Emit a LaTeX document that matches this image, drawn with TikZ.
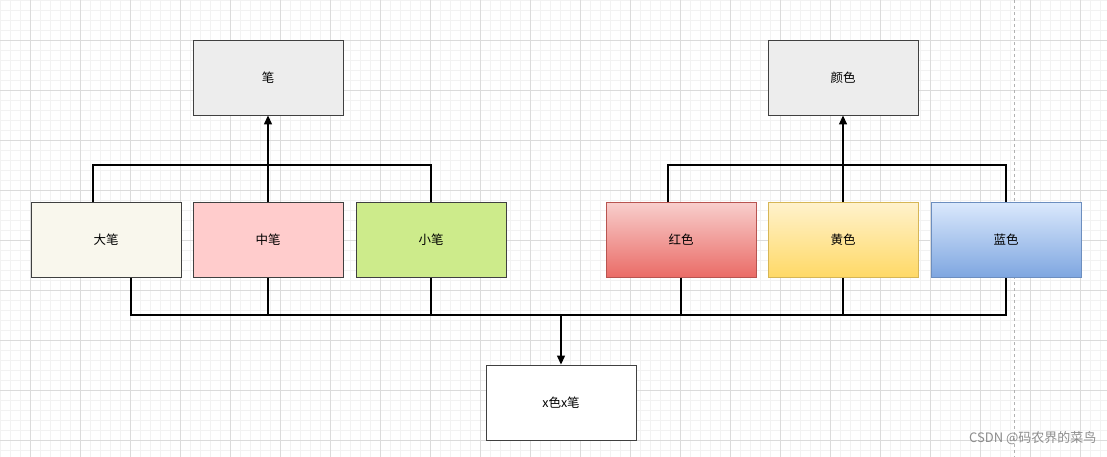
\documentclass[tikz,border=0pt]{standalone}
\usepackage{fontspec}
\setmainfont{Noto Sans CJK SC}
\usetikzlibrary{arrows.meta}
\begin{document}
\begin{tikzpicture}[x=1pt,y=-1pt,
 bx/.style={draw=black!75,line width=0.9pt,minimum width=150pt,minimum height=75pt,inner sep=0pt,font=\fontsize{12.5}{14}\selectfont},
 ln/.style={line width=1.3pt,black},
 ar/.style={-{Triangle[length=9pt,width=8pt]}}]
\fill[white] (0,0) rectangle (1107,457);
\useasboundingbox (0,0) rectangle (1107,457);
\foreach \x in {0,10,...,1100} \draw[black!5,line width=0.5pt] (\x,0)--(\x,457);
\foreach \y in {0,10,...,450} \draw[black!5,line width=0.5pt] (0,\y)--(1107,\y);
\foreach \x in {30,80,...,1100} \draw[black!14,line width=0.6pt] (\x,0)--(\x,457);
\foreach \y in {40,90,...,450} \draw[black!14,line width=0.6pt] (0,\y)--(1107,\y);
\draw[black!30,dashed] (1014,0)--(1014,457);
\node[bx,fill=black!7] (pen) at (268,77.5) {笔};
\node[bx,fill=black!7] (col) at (843,77.5) {颜色};
\node[bx,fill={rgb,255:red,249;green,247;blue,237}] (big) at (106,240) {大笔};
\node[bx,fill={rgb,255:red,255;green,204;blue,204}] (mid) at (268,240) {中笔};
\node[bx,fill={rgb,255:red,205;green,235;blue,139}] (sml) at (431,240) {小笔};
\node[bx,draw={rgb,255:red,184;green,84;blue,80},top color={rgb,255:red,248;green,206;blue,204},bottom color={rgb,255:red,234;green,107;blue,102}] (red) at (681,240) {红色};
\node[bx,draw={rgb,255:red,214;green,182;blue,86},top color={rgb,255:red,255;green,242;blue,204},bottom color={rgb,255:red,255;green,217;blue,102}] (yel) at (843,240) {黄色};
\node[bx,draw={rgb,255:red,108;green,142;blue,191},top color={rgb,255:red,218;green,232;blue,252},bottom color={rgb,255:red,126;green,166;blue,224}] (blu) at (1006,240) {蓝色};
\node[bx,fill=white] (res) at (561,402.5) {x色x笔};
\coordinate (bigT) at ([xshift=-13pt]big.north);
\coordinate (bigB) at ([xshift=25pt]big.south);
\coordinate (redT) at ([xshift=-13pt]red.north);
\draw[ln] (bigT) |- (sml.north |- 0,165) -- (sml.north);
\draw[ln] (mid.north) -- (mid.north |- 0,165);
\draw[ln,ar] (mid.north) -- (pen.south);
\draw[ln] (redT) |- (blu.north |- 0,165) -- (blu.north);
\draw[ln,ar] (yel.north) -- (col.south);
\draw[ln] (bigB) |- (blu.south |- 0,315) -- (blu.south);
\foreach \n in {mid,sml,red,yel} \draw[ln] (\n.south) -- (\n.south |- 0,315);
\coordinate (j) at (res.north |- 0,315);
\draw[ln,ar] (j) -- (res.north);
\node[text=black!45,font=\fontsize{13}{15}\selectfont,anchor=east] (wm) at (1100,438) {CSDN @码农界的菜鸟};
\end{tikzpicture}
\end{document}
